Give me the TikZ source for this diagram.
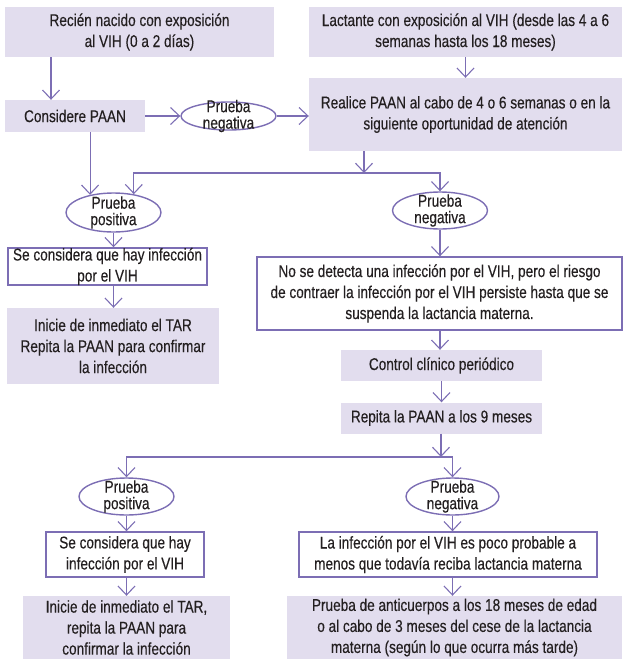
\documentclass[tikz,border=0pt]{standalone}
\usepackage{fontspec}
\setmainfont[FakeStretch=0.8,FakeBold=0.3]{Liberation Sans}
\usetikzlibrary{arrows.meta,positioning,shapes.geometric}
\definecolor{flowlav}{RGB}{226,221,238}
\definecolor{flowline}{RGB}{124,110,180}
\definecolor{flowtext}{RGB}{35,31,32}

\begin{document}
\begin{tikzpicture}[x=1pt,y=-1pt,font=\fontsize{17}{21}\selectfont,text=flowtext,
      sz/.style 2 args={minimum width=#1pt, minimum height=#2pt},
      fb/.style={rectangle, fill=flowlav, inner sep=0pt, align=center},
      lb/.style={rectangle, draw=flowline, line width=1.4pt, fill=white, inner sep=0pt, align=center},
      ov/.style={ellipse, draw=flowline, line width=1.4pt, fill=white, inner sep=0pt},
      ovt/.style={inner sep=0pt, align=center, font=\fontsize{17}{16.5}\selectfont},
      ar/.style={draw=flowline, line width=1.1pt, -{Straight Barb[length=9pt,width=17pt]}}]
    \useasboundingbox (0,0) rectangle (622,659);
    \node[fb, sz={269}{50}] (newborn) at (139.5,32) {Recién nacido con exposición\\al VIH (0 a 2 días)};
    \node[fb, sz={313}{50}] (infant)  at (465.5,32) {Lactante con exposición al VIH (desde las 4 a 6\\semanas hasta los 18 meses)};
    \node[fb, sz={140}{32}] (consider) at (75,116) {Considere PAAN};
    \node[ov, sz={95}{28}]  (negA) at (228.5,116) {};
    \node[ovt] (negAt) at (negA) {Prueba\\negativa};
    \node[fb, sz={313}{73}] (realice) at (465.5,114.5) {Realice PAAN al cabo de 4 o 6 semanas o en la\\siguiente oportunidad de atención};
    \coordinate (split1) at (364,173);
    \coordinate (nbdrop) at ([xshift=-24pt]consider.north);

    \node[ov, sz={95}{39}]  (posA) at (113.5,212.5) {};
    \node[ovt] (posAt) at (posA) {Prueba\\positiva};
    \node[lb, sz={199}{37}] (seA) at (107.5,266.5) {Se considera que hay infección\\por el VIH};
    \node[fb, sz={212}{76}] (initA) at (113,346) {Inicie de inmediato el TAR\\Repita la PAAN para confirmar\\la infección};

    \node[ov, sz={95}{37}]  (negB) at (440,210.5) {};
    \node[ovt] (negBt) at (negB) {Prueba\\negativa};
    \node[lb, sz={365}{73}] (nodet) at (439.5,293.5) {No se detecta una infección por el VIH, pero el riesgo\\de contraer la infección por el VIH persiste hasta que se\\suspenda la lactancia materna.};
    \node[fb, sz={201}{31}] (control) at (441.5,365.5) {Control clínico periódico};
    \node[fb, sz={201}{31}] (repita) at (441.5,418) {Repita la PAAN a los 9 meses};
    \coordinate (split2) at (441,457);

    \node[ov, sz={95}{37}]  (posB) at (126.5,496.5) {};
    \node[ovt] (posBt) at (posB) {Prueba\\positiva};
    \node[lb, sz={158}{45}] (seB) at (125,554.5) {Se considera que hay\\infección por el VIH};
    \node[fb, sz={207}{63}] (initB) at (126.5,627.5) {Inicie de inmediato el TAR,\\repita la PAAN para\\confirmar la infección};

    \node[ov, sz={93}{37}]  (negC) at (452.5,496.5) {};
    \node[ovt] (negCt) at (negC) {Prueba\\negativa};
    \node[lb, sz={298}{45}] (unlikely) at (448,554.5) {La infección por el VIH es poco probable a\\menos que todavía reciba lactancia materna};
    \node[fb, sz={335}{63}] (antib) at (454.5,627.5) {Prueba de anticuerpos a los 18 meses de edad\\o al cabo de 3 meses del cese de la lactancia\\materna (según lo que ocurra más tarde)};

    \draw[ar] (nbdrop |- newborn.south) -- (nbdrop);
    \draw[ar] (consider.east) -- (negA.west);
    \draw[ar] (negA.east) -- (negA.east -| realice.west);
    \draw[ar] (infant.south) -- (realice.north);
    \draw[ar] (realice.south -| split1) -- (split1);
    \draw[ar] (split1) -| (posA.42);
    \draw[ar] (split1) -| (negB.north);
    \draw[ar] (consider.south -| posA.143) -- (posA.143);
    \draw[ar] (posA.south) -- (seA.north -| posA.south);
    \draw[ar] (seA.south -| posA.south) -- (initA.north -| posA.south);
    \draw[ar] (negB.south) -- (nodet.north -| negB.south);
    \draw[ar] (nodet.south -| negB.south) -- (control.north -| negB.south);
    \draw[ar] (control.south) -- (repita.north);
    \draw[ar] (repita.south -| split2) -- (split2);
    \draw[ar] (split2) -| (posB.north);
    \draw[ar] (split2) -| (negC.north);
    \draw[ar] (posB.south) -- (seB.north -| posB.south);
    \draw[ar] (seB.south -| posB.south) -- (initB.north -| posB.south);
    \draw[ar] (negC.south) -- (unlikely.north -| negC.south);
    \draw[ar] (unlikely.south -| negC.south) -- (antib.north -| negC.south);
  \end{tikzpicture}
\end{document}
